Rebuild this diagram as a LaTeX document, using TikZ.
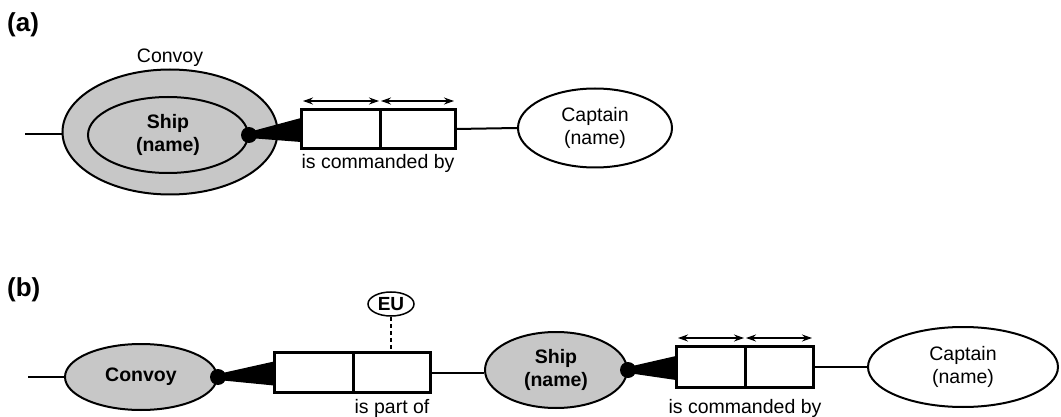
\documentclass[tikz,border=0pt]{standalone}
\usepackage{fontspec}
\setmainfont{Liberation Sans}
\usetikzlibrary{shapes.geometric,arrows.meta,calc}
\tikzset{
  ent/.style={ellipse, draw, line width=2pt, inner sep=0pt},
  shaded/.style={ent, fill=black!22},
  cell/.style={rectangle, draw, line width=2pt, fill=white, inner sep=0pt, minimum width=#1},
  dotnode/.style={circle, fill=black, inner sep=0pt, minimum size=16pt},
  conn/.style={line width=2pt},
  txt/.style={font=\fontsize{19.5}{23}\selectfont, inner sep=0pt, align=center},
  btxt/.style={font=\fontsize{19.5}{23}\selectfont\bfseries, inner sep=0pt, align=center},
  lbl/.style={font=\fontsize{26}{30}\selectfont\bfseries, inner sep=0pt, anchor=west},
  span/.style={line width=1.1pt, {Stealth[length=10pt,width=7pt]}-{Stealth[length=10pt,width=7pt]}},
}
\begin{document}
\begin{tikzpicture}[x=1pt,y=-1pt]
\useasboundingbox (0,0) rectangle (1061,417);
% ---------- (a) ----------
\node[lbl] (la) at (7,25) {(a)};
\node[shaded, minimum width=215pt, minimum height=125pt] (convA) at (170,132) {};
\node[shaded, minimum width=160pt, minimum height=76pt] (shipA) at (168,135) {};
\node[btxt] at (shipA.center) {Ship\\(name)};
\node[txt] (convAlbl) at (170,58) {Convoy};
\coordinate (inA) at (25,134);
\draw[conn] (inA) -- (convA.west |- inA);
\node[dotnode] (dotA) at (shipA.east) {};
\node[cell=78pt, minimum height=38pt] (a1) at (341,129) {};
\node[cell=75pt, minimum height=38pt] (a2) at (417.5,129) {};
\fill ($(dotA.center)+(0,-3)$) -- ($(a1.west)+(0,-11)$) -- ($(a1.west)+(0,13)$) -- ($(dotA.center)+(0,3)$) -- cycle;
\draw[line width=2pt] (a1.north west) rectangle (a2.south east);
\draw[line width=2pt] (a1.north east) -- (a1.south east);
\draw[span] ($(a1.north west)+(2,-8)$) -- ($(a1.north east)+(-2,-8)$);
\draw[span] ($(a2.north west)+(2,-8)$) -- ($(a2.north east)+(-2,-8)$);
\node[txt] (relA) at (378,163) {is commanded by};
\node[ent, minimum width=154pt, minimum height=79pt] (captA) at (595,128) {};
\node[txt] at (captA.center) {Captain\\(name)};
\draw[conn] (a2.east) -- (captA.west);
% ---------- (b) ----------
\node[lbl] (lb) at (7,290) {(b)};
\node[shaded, minimum width=152pt, minimum height=66pt] (convB) at (141,377) {};
\node[btxt] at (convB.center) {Convoy};
\coordinate (inB) at (28,377);
\draw[conn] (inB) -- (convB.west);
\node[dotnode] (dotB) at (convB.east) {};
\node[cell=78pt, minimum height=39pt] (b1) at (314,372.5) {};
\node[cell=77pt, minimum height=39pt] (b2) at (391.5,372.5) {};
\fill ($(dotB.center)+(0,-3)$) -- ($(b1.west)+(0,-11)$) -- ($(b1.west)+(0,13)$) -- ($(dotB.center)+(0,3)$) -- cycle;
\draw[line width=2pt] (b1.north west) rectangle (b2.south east);
\draw[line width=2pt] (b1.north east) -- (b1.south east);
\node[ent, line width=1.5pt, minimum width=46pt, minimum height=24pt, font=\fontsize{19}{20}\selectfont\bfseries] (eu) at (391,304) {EU};
\draw[line width=1.3pt, dash pattern=on 4pt off 3pt] (eu.south) -- (eu.south |- b2.north);
\node[txt] (relB1) at (392,408) {is part of};
\node[shaded, minimum width=142pt, minimum height=76pt] (shipB) at (556,370) {};
\node[btxt] at (shipB.center) {Ship\\(name)};
\draw[conn] (b2.east) -- (shipB.west |- b2.east);
\node[dotnode] (dotC) at (shipB.east) {};
\node[cell=68pt, minimum height=40pt] (c1) at (711,367) {};
\node[cell=68pt, minimum height=40pt] (c2) at (779,367) {};
\fill ($(dotC.center)+(0,-3)$) -- ($(c1.west)+(0,-11)$) -- ($(c1.west)+(0,13)$) -- ($(dotC.center)+(0,3)$) -- cycle;
\draw[line width=2pt] (c1.north west) rectangle (c2.south east);
\draw[line width=2pt] (c1.north east) -- (c1.south east);
\draw[span] ($(c1.north west)+(2,-8)$) -- ($(c1.north east)+(-2,-8)$);
\draw[span] ($(c2.north west)+(2,-8)$) -- ($(c2.north east)+(-2,-8)$);
\node[txt] (relB2) at (745,408) {is commanded by};
\node[ent, minimum width=190pt, minimum height=80pt] (captB) at (963,367) {};
\node[txt] at (captB.center) {Captain\\(name)};
\draw[conn] (c2.east) -- (captB.west);
\end{tikzpicture}
\end{document}
